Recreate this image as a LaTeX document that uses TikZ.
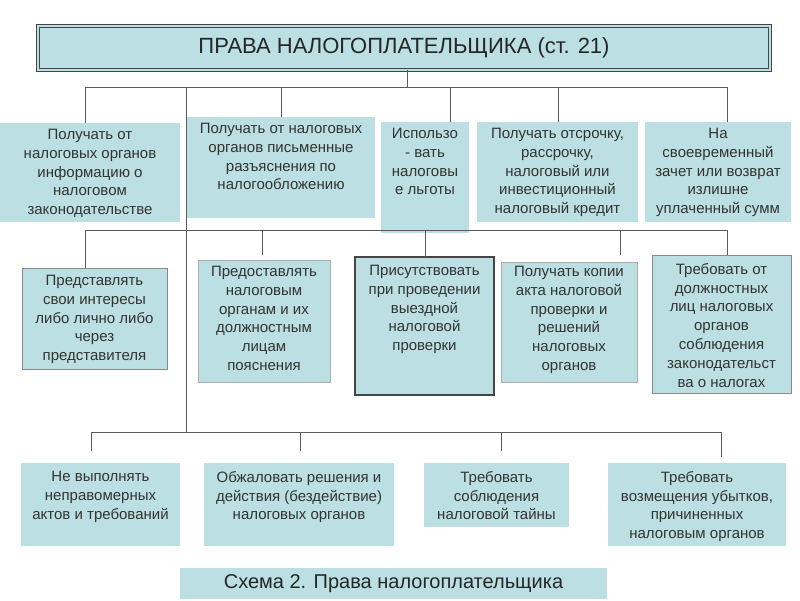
\documentclass[tikz,border=0pt]{standalone}
\usepackage{fontspec}
\setmainfont{Liberation Sans}
\usetikzlibrary{positioning}
\definecolor{boxfill}{HTML}{BBDFE2}
\definecolor{linecol}{HTML}{5A5A5A}
\definecolor{txtcol}{HTML}{333333}
\definecolor{edgegray}{HTML}{8A8A8A}
\definecolor{edgedark}{HTML}{454545}
\tikzset{
  box/.style={rectangle, fill=boxfill, anchor=north west, inner sep=0pt, outer sep=0pt},
  grayedge/.style={draw=edgegray, line width=0.9pt},
  darkedge/.style={draw=edgedark, line width=1.1pt},
  lightedge/.style={draw=edgegray!70, line width=0.8pt},
  txt/.style={align=center, inner sep=0pt, text=txtcol, font=\fontsize{15}{18.8}\selectfont},
  conn/.style={draw=linecol, line width=0.9pt},
}
\begin{document}
\begin{tikzpicture}[x=1pt, y=-1pt]
\useasboundingbox (0,0) rectangle (800,600);
\fill[white] (0,0) rectangle (800,600);

% title
\node[box, minimum width=732, minimum height=44, draw=edgedark, double=boxfill, double distance=2.2pt, line width=0.9pt, font=\fontsize{22}{26}\selectfont, text=black!85] (title) at (38,26) {ПРАВА НАЛОГОПЛАТЕЛЬЩИКА (ст. 21)};

% row 1
\node[box, minimum width=180, minimum height=99] (b1) at (0,123) {};
\node[box, minimum width=188, minimum height=101] (b2) at (187,117) {};
\node[box, minimum width=88, minimum height=111] (b3) at (381,122) {};
\node[box, minimum width=161, minimum height=100] (b4) at (477,122) {};
\node[box, minimum width=146, minimum height=100] (b5) at (645,122) {};

% row 2
\node[box, grayedge, minimum width=145, minimum height=101] (b6) at (22,268) {};
\node[box, lightedge, minimum width=132, minimum height=122] (b7) at (198,260) {};
\node[box, darkedge, minimum width=139, minimum height=138] (b8) at (355,257) {};
\node[box, lightedge, minimum width=136, minimum height=120] (b9) at (501,262) {};
\node[box, grayedge, minimum width=139, minimum height=138] (b10) at (652,255) {};

% row 3
\node[box, minimum width=159, minimum height=83] (b11) at (21,463) {};
\node[box, minimum width=190, minimum height=83] (b12) at (204,463) {};
\node[box, minimum width=145, minimum height=64] (b13) at (424,463) {};
\node[box, minimum width=178, minimum height=83] (b14) at (608,463) {};

% caption
\node[box, minimum width=427, minimum height=31, font=\fontsize{20}{24}\selectfont, text=black!85] (cap) at (180,568) {Схема 2. Права налогоплательщика};

% texts
\node[txt, below=6pt of b1.north] (t1) {Получать от\\налоговых органов\\информацию о\\налоговом\\законодательстве};
\node[txt, below=6pt of b2.north] (t2) {Получать от налоговых\\органов письменные\\разъяснения по\\налогообложению};
\node[txt, below=6pt of b3.north] (t3) {Использо\\- вать\\налоговы\\е льготы};
\node[txt, below=6pt of b4.north] (t4) {Получать отсрочку,\\рассрочку,\\налоговый или\\инвестиционный\\налоговый кредит};
\node[txt, below=6pt of b5.north] (t5) {На\\своевременный\\зачет или возврат\\излишне\\уплаченный сумм};

\node[txt, below=7pt of b6.north] (t6) {Представлять\\свои интересы\\либо лично либо\\через\\представителя};
\node[txt, below=6pt of b7.north] (t7) {Предоставлять\\налоговым\\органам и их\\должностным\\лицам\\пояснения};
\node[txt, below=8pt of b8.north] (t8) {Присутствовать\\при проведении\\выездной\\налоговой\\проверки};
\node[txt, below=4pt of b9.north] (t9) {Получать копии\\акта налоговой\\проверки и\\решений\\налоговых\\органов};
\node[txt, below=8pt of b10.north] (t10) {Требовать от\\должностных\\лиц налоговых\\органов\\соблюдения\\законодательст\\ва о налогах};

\node[txt, below=8pt of b11.north] (t11) {Не выполнять\\неправомерных\\актов и требований};
\node[txt, below=8pt of b12.north] (t12) {Обжаловать решения и\\действия (бездействие)\\налоговых органов};
\node[txt, below=8pt of b13.north] (t13) {Требовать\\соблюдения\\налоговой тайны};
\node[txt, below=8pt of b14.north] (t14) {Требовать\\возмещения убытков,\\причиненных\\налоговым органов};

% connectors level 1
\coordinate (j0) at (407,87);
\coordinate (L1) at (85,87);
\coordinate (R1) at (727,87);
\coordinate (d2) at (281,87);
\coordinate (d3) at (450,87);
\coordinate (d4) at (558,87);
\coordinate (tr) at (186,87);
\coordinate (trb) at (186,432);
\draw[conn] (j0 |- title.south) -- (j0);
\draw[conn] (L1) -- (R1);
\draw[conn] (L1) -- (L1 |- b1.north);
\draw[conn] (d2) -- (d2 |- b2.north);
\draw[conn] (d3) -- (d3 |- b3.north);
\draw[conn] (d4) -- (d4 |- b4.north);
\draw[conn] (R1) -- (R1 |- b5.north);
\draw[conn] (tr) -- (trb);

% connectors level 2
\coordinate (L2) at (85,230);
\coordinate (R2) at (727,230);
\coordinate (e7) at (262,230);
\coordinate (e7b) at (262,255);
\coordinate (e8) at (425,230);
\coordinate (e9) at (620,230);
\coordinate (e9b) at (620,255);
\draw[conn] (L2) -- (R2);
\draw[conn] (L2) -- (L2 |- b6.north);
\draw[conn] (e7) -- (e7b);
\draw[conn] (e8) -- (e8 |- b8.north);
\draw[conn] (e9) -- (e9b);
\draw[conn] (R2) -- (R2 |- b10.north);

% connectors level 3
\coordinate (L3) at (91,432);
\coordinate (R3) at (721,432);
\coordinate (f11) at (91,451);
\coordinate (f12a) at (300,432);
\coordinate (f12) at (300,451);
\coordinate (f13a) at (501,432);
\coordinate (f13) at (501,451);
\coordinate (f14) at (721,457);
\draw[conn] (L3) -- (R3);
\draw[conn] (L3) -- (f11);
\draw[conn] (f12a) -- (f12);
\draw[conn] (f13a) -- (f13);
\draw[conn] (R3) -- (f14);
\end{tikzpicture}
\end{document}
